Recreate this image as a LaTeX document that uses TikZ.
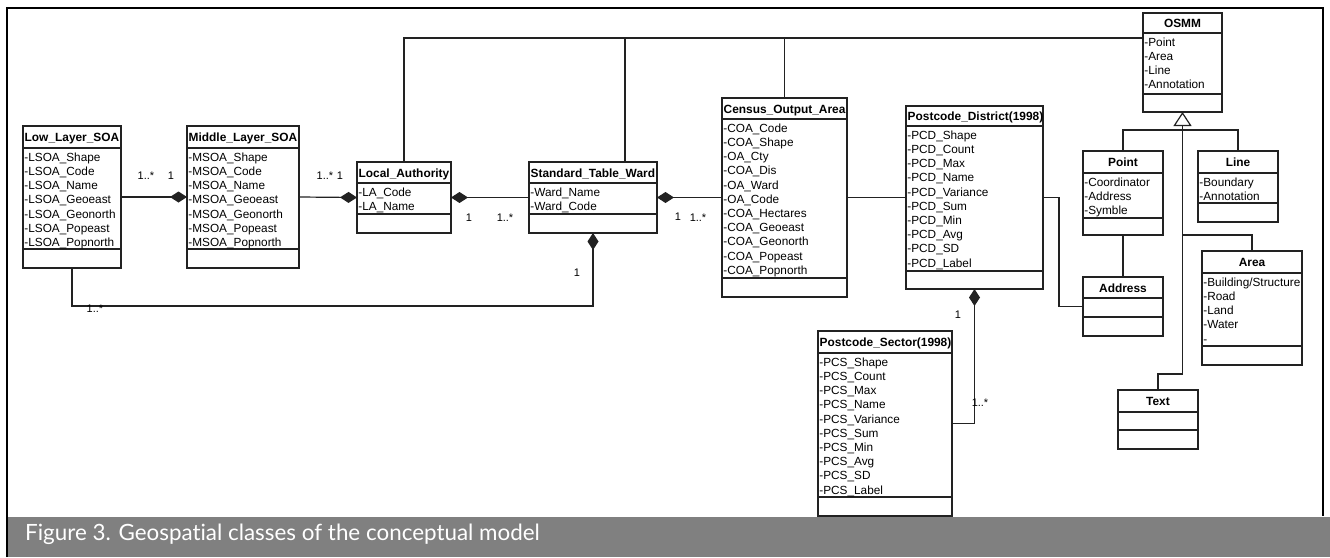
\documentclass[tikz,border=0pt]{standalone}
\usepackage{fontspec}
\setmainfont{Liberation Sans}
\newfontfamily\capfont[Ligatures=NoCommon]{Lato}
\usetikzlibrary{arrows.meta,calc}
\definecolor{capgray}{HTML}{808080}
\definecolor{ink}{HTML}{222222}
\tikzset{
  boxline/.style={draw=ink, line width=1.2pt},
  sepline/.style={draw=ink, line width=2.2pt},
  conn/.style={draw=ink, line width=1.2pt},
  ttl/.style={font=\bfseries\fontsize{11.9}{13}\selectfont, inner sep=0pt},
  attr/.style={font=\fontsize{11.8}{13}\selectfont, inner sep=0pt, anchor=base west},
  mult/.style={font=\fontsize{11}{12}\selectfont, inner sep=0pt},
  comp/.style={-{Diamond[length=17pt,width=11pt]}},
  gen/.style={-{Triangle[open,length=14pt,width=18pt]}},
}
\newcommand\umlcls[9]{%
  \pgfmathsetmacro\cw{#4-#2}\pgfmathsetmacro\ch{#5-#3}%
  \node[boxline, inner sep=0pt, outer sep=0pt, minimum width=\cw pt, minimum height=\ch pt, anchor=north west] (#1) at (#2,#3) {};
  \draw[boxline] (#2,#6) -- (#4,#6);
  \draw[sepline] (#2,#7) -- (#4,#7);
  \pgfmathsetmacro\ty{(#3+#6)/2+4.5}%
  \ifnum#8=0
    \node[ttl, anchor=base west] (#1-t) at (#2+1.5,\ty) {#9};
  \else
    \pgfmathsetmacro\tx{(#2+#4)/2}%
    \node[ttl, anchor=base] (#1-t) at (\tx,\ty) {#9};
  \fi
}
\newcommand\umlattrs[3]{%
  \foreach \a [count=\i from 0] in {#3} {
    \node[attr] at (#1+1.2, #2+13.3+\i*14.2) {\a};
  }
}
\begin{document}
\begin{tikzpicture}[x=1pt,y=-1pt]
\useasboundingbox (0,0) rectangle (1330,557);
% caption bar and frame
\fill[capgray] (8.25,516.5) rectangle (1330,557);
\node[anchor=base west, inner sep=0pt, text=white, font=\capfont\fontsize{22.4}{25}\selectfont] (cap) at (25,540) {Figure 3. Geospatial classes of the conceptual model};
\draw[line width=2.5pt, black] (7,557) -- (7,8) -- (1323,8) -- (1323,516);
% classes
\umlcls{lsoa}{23}{126}{121}{268}{148}{249}{0}{Low\_Layer\_SOA}
\umlattrs{23}{148}{-LSOA\_Shape,-LSOA\_Code,-LSOA\_Name,-LSOA\_Geoeast,-LSOA\_Geonorth,-LSOA\_Popeast,-LSOA\_Popnorth}
\umlcls{msoa}{187}{126}{299}{268}{148}{249}{0}{Middle\_Layer\_SOA}
\umlattrs{187}{148}{-MSOA\_Shape,-MSOA\_Code,-MSOA\_Name,-MSOA\_Geoeast,-MSOA\_Geonorth,-MSOA\_Popeast,-MSOA\_Popnorth}
\umlcls{la}{357}{162}{451}{233}{183}{214}{0}{Local\_Authority}
\umlattrs{357}{183}{-LA\_Code,-LA\_Name}
\umlcls{stw}{529}{162}{657}{233}{183}{214}{0}{Standard\_Table\_Ward}
\umlattrs{529}{183}{-Ward\_Name,-Ward\_Code}
\umlcls{coa}{722}{98}{847}{297}{119}{278}{0}{Census\_Output\_Area}
\umlattrs{722}{119}{-COA\_Code,-COA\_Shape,-OA\_Cty,-COA\_Dis,-OA\_Ward,-OA\_Code,-COA\_Hectares,-COA\_Geoeast,-COA\_Geonorth,-COA\_Popeast,-COA\_Popnorth}
\umlcls{pcd}{906}{106}{1043}{289}{126}{271}{0}{Postcode\_District(1998)}
\umlattrs{906}{126}{-PCD\_Shape,-PCD\_Count,-PCD\_Max,-PCD\_Name,-PCD\_Variance,-PCD\_Sum,-PCD\_Min,-PCD\_Avg,-PCD\_SD,-PCD\_Label}
\umlcls{pcs}{818}{331}{952}{516}{353}{497}{0}{Postcode\_Sector(1998)}
\umlattrs{818}{353}{-PCS\_Shape,-PCS\_Count,-PCS\_Max,-PCS\_Name,-PCS\_Variance,-PCS\_Sum,-PCS\_Min,-PCS\_Avg,-PCS\_SD,-PCS\_Label}
\umlcls{osmm}{1143}{13}{1222}{112}{33}{94}{1}{OSMM}
\umlattrs{1143}{33}{-Point,-Area,-Line,-Annotation}
\umlcls{point}{1083}{151}{1163}{235}{173}{218}{1}{Point}
\umlattrs{1083}{173}{-Coordinator,-Address,-Symble}
\umlcls{line}{1198}{151}{1278}{222}{173}{203}{1}{Line}
\umlattrs{1198}{173}{-Boundary,-Annotation}
\umlcls{area}{1202}{251}{1302}{365}{273}{346}{1}{Area}
\umlattrs{1202}{273}{-Building/Structure,-Road,-Land,-Water,-}
\umlcls{addr}{1083}{277}{1163}{336}{298}{317}{1}{Address}
\umlcls{text}{1118}{390}{1198}{449}{412}{430}{1}{Text}
% connectors
\draw[conn,comp] (lsoa.east) -- (msoa.west);
\draw[conn,comp] (msoa.east) -- (la.west);
\draw[conn,comp] (stw.west) -- (la.east);
\draw[conn,comp] (coa.west) -- (stw.east);
\draw[conn] (coa.east) -- (pcd.west);
\coordinate (topj) at ($(osmm.north west)+(0,25)$);
\draw[conn] (la.north) |- (topj);
\coordinate (stwtop) at ($(stw.north)+(32,0)$);
\draw[conn] (stwtop) -- (stwtop |- topj);
\draw[conn] (coa.north) -- (coa.north |- topj);
\draw[conn,comp] (lsoa.south) -- ++(0,38) -| (stw.south);
\draw[conn,comp] (pcs.east) -| (pcd.south);
\draw[conn] (pcd.east) -- ++(16,0) |- (addr.west);
\draw[conn] (point.south) -- (addr.north);
\draw[conn,gen] (text.north) -- ++(0,-16) -| (osmm.south);
\draw[conn] (point.north) -- ++(0,-21) -| (line.north);
\coordinate (areaj) at (osmm.south |- point.south);
\draw[conn] (areaj) -| (area.north);
% multiplicities
\node[mult] (m1) at (146,176) {1..*};
\node[mult] (m2) at (171,176) {1};
\node[mult] (m3) at (325,176) {1..*};
\node[mult] (m4) at (340,176) {1};
\node[mult] (m5) at (469,218) {1};
\node[mult] (m6) at (505,218) {1..*};
\node[mult] (m7) at (678,217) {1};
\node[mult] (m8) at (698,218) {1..*};
\node[mult] (m9) at (577,273) {1};
\node[mult] (m10) at (95,309) {1..*};
\node[mult] (m11) at (958,315) {1};
\node[mult] (m12) at (980,403) {1..*};
\end{tikzpicture}
\end{document}
